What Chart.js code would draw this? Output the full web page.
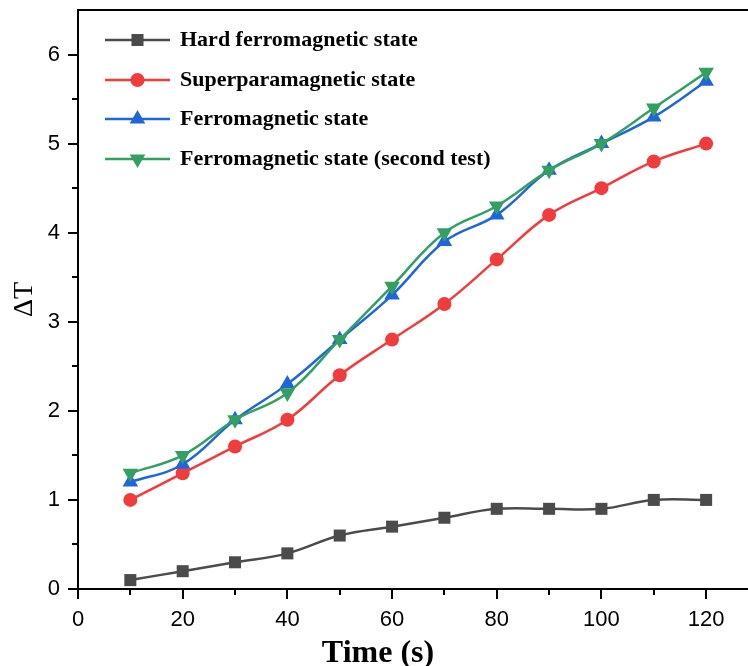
<!DOCTYPE html>
<html>
<head>
<meta charset="utf-8">
<script src="https://cdn.jsdelivr.net/npm/chart.js@4.4.1/dist/chart.umd.min.js"></script>
<style>
html,body{margin:0;padding:0;background:#fff;}
canvas{display:block;}
</style>
</head>
<body>
<canvas id="c" width="748" height="666"></canvas>
<script>
const timeValues = [10, 20, 30, 40, 50, 60, 70, 80, 90, 100, 110, 120];
const hardFerro = [0.1, 0.2, 0.3, 0.4, 0.6, 0.7, 0.8, 0.9, 0.9, 0.9, 1.0, 1.0];
const superPara = [1.0, 1.3, 1.6, 1.9, 2.4, 2.8, 3.2, 3.7, 4.2, 4.5, 4.8, 5.0];
const ferro = [1.2, 1.4, 1.9, 2.3, 2.8, 3.3, 3.9, 4.2, 4.7, 5.0, 5.3, 5.7];
const ferroSecond = [1.3, 1.5, 1.9, 2.2, 2.8, 3.4, 4.0, 4.3, 4.7, 5.0, 5.4, 5.8];
const seriesLabels = ['Hard ferromagnetic state', 'Superparamagnetic state', 'Ferromagnetic state', 'Ferromagnetic state (second test)'];
const xTickValues = [0, 20, 40, 60, 80, 100, 120];
const xMinorValues = [10, 30, 50, 70, 90, 110];
const yTickValues = [0, 1, 2, 3, 4, 5, 6];
const yMinorValues = [0.5, 1.5, 2.5, 3.5, 4.5, 5.5];
const xTitle = 'Time (s)';
const yTitle = 'ΔT';

const toPts = arr => arr.map((v, i) => ({x: timeValues[i], y: v}));

const styles = [
  {color: '#4b4b4b', pointStyle: 'rect', radius: 8.5, rotation: 0, order: 3},
  {color: '#f03c3c', pointStyle: 'circle', radius: 7, rotation: 0, order: 2},
  {color: '#1f66da', pointStyle: 'triangle', radius: 9, rotation: 0, order: 1},
  {color: '#33a062', pointStyle: 'triangle', radius: 9, rotation: 180, order: 0}
];
const seriesData = [hardFerro, superPara, ferro, ferroSecond];

const datasets = seriesData.map((d, i) => ({
  label: seriesLabels[i],
  data: toPts(d),
  borderColor: styles[i].color,
  backgroundColor: styles[i].color,
  borderWidth: 2.5,
  pointStyle: styles[i].pointStyle,
  pointRadius: styles[i].radius,
  pointRotation: styles[i].rotation,
  pointBorderWidth: 0,
  pointBackgroundColor: styles[i].color,
  tension: 0.4,
  order: styles[i].order,
  clip: false
}));

function drawMarker(ctx, style, r, rot, x, y, color) {
  ctx.save();
  ctx.fillStyle = color;
  ctx.beginPath();
  if (style === 'rect') {
    const s = Math.SQRT1_2 * r;
    ctx.rect(x - s, y - s, 2 * s, 2 * s);
  } else if (style === 'circle') {
    ctx.arc(x, y, r, 0, Math.PI * 2);
  } else {
    let a = rot * Math.PI / 180;
    for (let k = 0; k < 3; k++) {
      const px = x + Math.sin(a) * r, py = y - Math.cos(a) * r;
      if (k === 0) ctx.moveTo(px, py); else ctx.lineTo(px, py);
      a += 2 * Math.PI / 3;
    }
    ctx.closePath();
  }
  ctx.fill();
  ctx.restore();
}

const framePlugin = {
  id: 'frame',
  afterDraw(chart) {
    const ctx = chart.ctx;
    const a = chart.chartArea;
    const xs = chart.scales.x, ys = chart.scales.y;
    ctx.save();
    ctx.strokeStyle = '#000';
    ctx.lineWidth = 2;
    ctx.beginPath();
    ctx.moveTo(a.left - 1, a.top);
    ctx.lineTo(a.right, a.top);
    ctx.stroke();
    ctx.beginPath();
    xTickValues.forEach(v => { const p = Math.round(xs.getPixelForValue(v)); ctx.moveTo(p, a.bottom); ctx.lineTo(p, a.bottom + 10); });
    xMinorValues.forEach(v => { const p = Math.round(xs.getPixelForValue(v)); ctx.moveTo(p, a.bottom); ctx.lineTo(p, a.bottom + 6); });
    yTickValues.forEach(v => { const p = Math.round(ys.getPixelForValue(v)); ctx.moveTo(a.left, p); ctx.lineTo(a.left - 10, p); });
    yMinorValues.forEach(v => { const p = Math.round(ys.getPixelForValue(v)); ctx.moveTo(a.left, p); ctx.lineTo(a.left - 6, p); });
    ctx.stroke();

    // x axis title
    ctx.fillStyle = '#000';
    ctx.font = 'bold 32px "Liberation Serif", "Times New Roman", serif';
    ctx.textAlign = 'center';
    ctx.textBaseline = 'alphabetic';
    ctx.fillText(xTitle, 378, 662);

    // legend
    const rowY = [40, 80, 119, 159];
    chart.data.datasets.forEach((ds, i) => {
      const y = rowY[i];
      ctx.strokeStyle = ds.borderColor;
      ctx.lineWidth = 2.5;
      ctx.beginPath();
      ctx.moveTo(105, y);
      ctx.lineTo(170, y);
      ctx.stroke();
      drawMarker(ctx, ds.pointStyle, ds.pointRadius, ds.pointRotation, 137.5, y, ds.pointBackgroundColor);
      ctx.fillStyle = '#000';
      ctx.font = 'bold 22px "Liberation Serif", "Times New Roman", serif';
      ctx.textBaseline = 'middle';
      ctx.textAlign = 'left';
      ctx.fillText(ds.label, 180, y);
    });
    ctx.restore();
  }
};

new Chart(document.getElementById('c'), {
  type: 'line',
  data: {datasets},
  options: {
    responsive: false,
    animation: false,
    layout: {autoPadding: false, padding: {top: 10, right: 0, left: 0, bottom: 0}},
    plugins: {legend: {display: false}, tooltip: {enabled: false}},
    scales: {
      x: {
        type: 'linear',
        min: 0,
        max: 128,
        afterBuildTicks: s => { s.ticks = xTickValues.map(v => ({value: v})); },
        afterFit: s => { s.height = 77; s.paddingLeft = 0; s.paddingRight = 0; s.paddingTop = 0; s.paddingBottom = 0; },
        grid: {display: false, drawTicks: false},
        border: {display: true, color: '#000', width: 2},
        ticks: {
          padding: 18,
          color: '#000',
          maxRotation: 0,
          autoSkip: false,
          font: {family: '"Liberation Sans", Arial, sans-serif', size: 22}
        },
        title: {display: false, text: xTitle}
      },
      y: {
        min: 0,
        max: 6.5,
        afterBuildTicks: s => { s.ticks = yTickValues.map(v => ({value: v})); },
        afterFit: s => { s.width = 78; s.paddingLeft = 0; s.paddingRight = 0; s.paddingTop = 0; s.paddingBottom = 0; },
        grid: {display: false, drawTicks: false},
        border: {display: true, color: '#000', width: 2},
        ticks: {
          padding: 18,
          color: '#000',
          autoSkip: false,
          font: {family: '"Liberation Sans", Arial, sans-serif', size: 22}
        },
        title: {
          display: true,
          text: yTitle,
          color: '#000',
          padding: {top: 11, bottom: 0},
          font: {family: '"Liberation Serif", "Times New Roman", serif', size: 28, lineHeight: 1}
        }
      }
    }
  },
  plugins: [framePlugin]
});
</script>
</body>
</html>
